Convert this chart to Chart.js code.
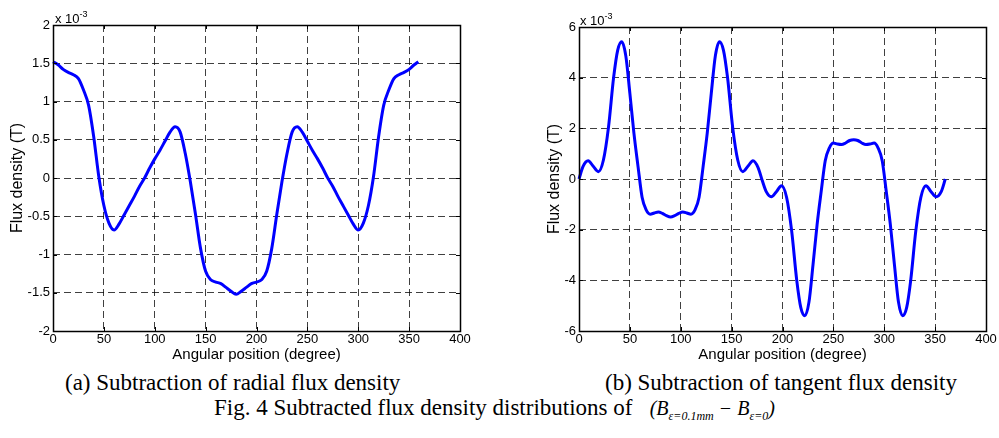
<!DOCTYPE html>
<html>
<head>
<meta charset="utf-8">
<script src="https://cdn.jsdelivr.net/npm/chart.js@4.4.1/dist/chart.umd.min.js"></script>
<style>
  html, body { margin: 0; padding: 0; background: #fff; }
  body { width: 999px; height: 438px; position: relative; overflow: hidden; }
  canvas { position: absolute; top: 0; }
  .mult { position: absolute; font-family: 'Liberation Sans', Arial, sans-serif; font-size: 13px; color: #000; line-height: 1; }
  .mult sup { font-size: 9px; position: relative; top: -1px; }
  .cap { position: absolute; font-family: 'Liberation Serif', 'Times New Roman', serif; font-size: 23px; color: #000; white-space: nowrap; line-height: 1; }
  .formula { font-style: italic; font-size: 20px; }
  .formula sub { font-size: 12px; }
</style>
</head>
<body>
<canvas id="cLeft" width="520" height="370" style="left:0px"></canvas>
<canvas id="cRight" width="479" height="370" style="left:520px"></canvas>
<div class="mult" style="left:55px; top:11px;">x 10<sup>-3</sup></div>
<div class="mult" style="left:580px; top:13px;">x 10<sup>-3</sup></div>
<div class="cap" id="capA" style="left:65px; top:371px;">(a) Subtraction of radial flux density</div>
<div class="cap" id="capB" style="left:605px; top:371px;">(b) Subtraction of tangent flux density</div>
<div class="cap" id="capFig" style="left:214px; top:396px;">Fig. 4 Subtracted flux density distributions of &nbsp;&nbsp;<span class="formula">(B<sub>ε=0.1mm</sub> − B<sub>ε=0</sub>)</span></div>
<script>
// ---------------- data (values in units of 1e-3 T) ----------------
const radialAngles = [0,5,10,15,20,25,30,35,40,45,50,55,60,65,70,75,80,85,90,95,100,105,110,115,120,125,130,135,140,145,150,155,160,165,170,175,180,
  185,190,195,200,205,210,215,220,225,230,235,240,245,250,255,260,265,270,275,280,285,290,295,300,305,310,315,320,325,330,335,340,345,350,355,359];
const radialValues = [1.52,1.48,1.42,1.38,1.35,1.30,1.15,0.95,0.54,0.02,-0.36,-0.59,-0.68,-0.60,-0.48,-0.36,-0.24,-0.11,0.00,0.13,0.25,0.36,0.48,0.60,0.67,0.60,0.32,-0.05,-0.47,-0.92,-1.22,-1.33,-1.36,-1.38,-1.43,-1.48,-1.52,
  -1.48,-1.43,-1.38,-1.36,-1.33,-1.22,-0.92,-0.47,-0.05,0.32,0.60,0.67,0.60,0.48,0.36,0.25,0.13,0.00,-0.11,-0.24,-0.36,-0.48,-0.60,-0.68,-0.59,-0.36,0.02,0.54,0.95,1.15,1.30,1.35,1.38,1.42,1.48,1.52];

const tangentAngles = [0,4,9,14,19,24,29,34,38,42,46,50,54,58,62,66,70,74,78,82,86,90,
  94,98,102,106,110,114,118,122,126,130,134,138,142,146,151,156,161,166,171,176,180,
  184,189,194,199,204,209,214,218,222,226,230,234,238,242,246,250,254,258,262,266,270,
  274,278,282,286,290,294,298,302,306,310,314,318,322,326,331,336,341,346,351,356,360];
const tangentValues = [0.00,0.50,0.72,0.50,0.29,0.75,2.05,4.00,5.08,5.42,4.86,3.38,1.80,0.50,-0.72,-1.22,-1.39,-1.34,-1.30,-1.36,-1.45,-1.50,
  -1.45,-1.36,-1.30,-1.34,-1.39,-1.22,-0.72,0.50,1.80,3.38,4.86,5.42,5.08,4.00,2.05,0.75,0.29,0.50,0.72,0.45,-0.05,
  -0.50,-0.70,-0.50,-0.27,-0.72,-2.05,-4.00,-5.08,-5.40,-4.86,-3.38,-1.80,-0.50,0.72,1.22,1.42,1.38,1.36,1.42,1.52,1.55,
  1.52,1.42,1.36,1.38,1.42,1.22,0.72,-0.50,-1.80,-3.38,-4.86,-5.40,-5.08,-4.00,-2.05,-0.72,-0.27,-0.50,-0.70,-0.50,0.00];

const xTicks = [0,50,100,150,200,250,300,350,400];
const yTicksRadial = [-2,-1.5,-1,-0.5,0,0.5,1,1.5,2];
const yTicksTangent = [-6,-4,-2,0,2,4,6];
const xTitle = 'Angular position (degree)';
const yTitle = 'Flux density (T)';

// ---------------- chart helpers ----------------
const FONT = "'Liberation Sans', Arial, sans-serif";
const GRID_DASH = [7, 4];

const boxPlugin = {
  id: 'box',
  afterDraw(chart) {
    const {ctx, chartArea: a, scales} = chart;
    ctx.save();
    ctx.strokeStyle = '#000';
    ctx.lineWidth = 1;
    ctx.beginPath();
    scales.x.ticks.forEach(t => {
      const px = Math.round(scales.x.getPixelForValue(t.value)) + 0.5;
      ctx.moveTo(px, a.bottom); ctx.lineTo(px, a.bottom - 4);
      ctx.moveTo(px, a.top); ctx.lineTo(px, a.top + 4);
    });
    scales.y.ticks.forEach(t => {
      const py = Math.round(scales.y.getPixelForValue(t.value)) + 0.5;
      ctx.moveTo(a.left, py); ctx.lineTo(a.left + 4, py);
      ctx.moveTo(a.right, py); ctx.lineTo(a.right - 4, py);
    });
    ctx.stroke();
    ctx.lineWidth = 1.5;
    ctx.strokeRect(Math.round(a.left) + 0.5, Math.round(a.top) + 0.5, Math.round(a.right - a.left), Math.round(a.bottom - a.top));
    ctx.restore();
  }
};

function makeChart(id, angles, values, yTicks, geo) {
  const pts = angles.map((a, i) => ({x: a, y: values[i]}));
  return new Chart(document.getElementById(id), {
    type: 'line',
    data: { datasets: [{ data: pts, borderColor: '#0000ff', borderWidth: 3, pointRadius: 0,
      cubicInterpolationMode: 'monotone', fill: false, clip: 2 }] },
    options: {
      responsive: false, animation: false, devicePixelRatio: 1,
      layout: { padding: { top: geo.top, right: geo.right, left: 0, bottom: 0 } },
      plugins: { legend: { display: false }, tooltip: { enabled: false } },
      scales: {
        x: {
          type: 'linear', min: xTicks[0], max: xTicks[xTicks.length - 1],
          afterBuildTicks: s => { s.ticks = xTicks.map(v => ({value: v})); },
          afterFit: s => { s.height = geo.xh; },
          ticks: { autoSkip: false, maxRotation: 0, padding: 1, color: '#000', font: { family: FONT, size: 13 }, callback: v => String(v) },
          grid: { color: 'rgba(0,0,0,0.75)', lineWidth: 1, drawTicks: false },
          border: { display: false, dash: GRID_DASH },
          title: { display: true, text: xTitle, color: '#000', font: { family: FONT, size: 15, lineHeight: 1.2 }, padding: { top: 0, bottom: geo.xtp } }
        },
        y: {
          type: 'linear', min: yTicks[0], max: yTicks[yTicks.length - 1],
          afterBuildTicks: s => { s.ticks = yTicks.map(v => ({value: v})); },
          afterFit: s => { s.width = geo.yw; },
          ticks: { autoSkip: false, padding: 3, color: '#000', font: { family: FONT, size: 13 }, callback: v => String(v) },
          grid: { color: 'rgba(0,0,0,0.75)', lineWidth: 1, drawTicks: false },
          border: { display: false, dash: GRID_DASH },
          title: { display: true, text: yTitle, color: '#000', font: { family: FONT, size: 16, lineHeight: 1.2 }, padding: { top: geo.ytp, bottom: 0 } }
        }
      }
    },
    plugins: [boxPlugin]
  });
}

const left = makeChart('cLeft', radialAngles, radialValues, yTicksRadial, { top: 25, right: 60, yw: 53, xh: 39, xtp: 6, ytp: 8 });
const right = makeChart('cRight', tangentAngles, tangentValues, yTicksTangent, { top: 27, right: 13, yw: 59, xh: 39, xtp: 6, ytp: 25 });
</script>
</body>
</html>
